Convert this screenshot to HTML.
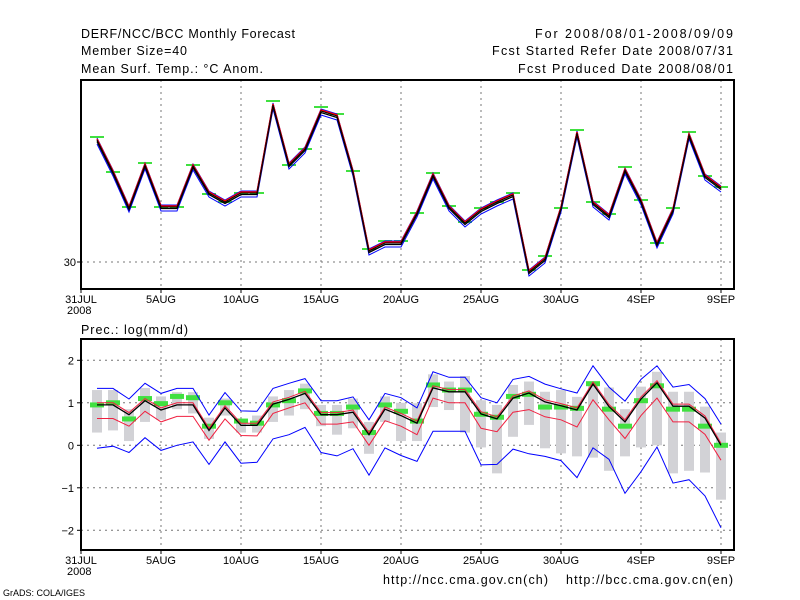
<!DOCTYPE html>
<html><head><meta charset="utf-8"><style>
body{margin:0;background:#fff;}
svg{display:block;font-family:"Liberation Sans",sans-serif;}
</style></head><body>
<svg id="s" width="800" height="600" xmlns="http://www.w3.org/2000/svg">
<rect width="800" height="600" fill="#fff"/>
<g font-size="12.5" fill="#000">
<text x="81" y="38" textLength="214" lengthAdjust="spacing">DERF/NCC/BCC Monthly Forecast</text>
<text x="81" y="55" textLength="106" lengthAdjust="spacing">Member Size=40</text>
<text x="81" y="73" textLength="182" lengthAdjust="spacing">Mean Surf. Temp.: °C Anom.</text>
<text x="535" y="38" textLength="198" lengthAdjust="spacing">For 2008/08/01-2008/09/09</text>
<text x="492" y="55" textLength="241" lengthAdjust="spacing">Fcst Started Refer Date 2008/07/31</text>
<text x="518" y="73" textLength="215" lengthAdjust="spacing">Fcst Produced Date 2008/08/01</text>
<text x="81" y="334" textLength="107" lengthAdjust="spacing">Prec.: log(mm/d)</text>
<text x="383" y="584" textLength="165" lengthAdjust="spacing">http://ncc.cma.gov.cn(ch)</text>
<text x="566" y="584" textLength="167" lengthAdjust="spacing">http://bcc.cma.gov.cn(en)</text>
</g>
<text x="3" y="596" font-size="9">GrADS: COLA/IGES</text>
<g id="g"></g>
</svg>
<script>
var g=document.getElementById('g'),h='';
function X(d){return 81+16*d;}
function pl(pts,c,w){h+='<polyline points="'+pts.join(' ')+'" fill="none" stroke="'+c+'" stroke-width="'+w+'"/>';}
var P=[[80,289],[339,550]];
P.forEach(function(p,i){
 for(var d=5;d<=40;d+=5){h+='<line x1="'+X(d)+'" y1="'+p[0]+'" x2="'+X(d)+'" y2="'+p[1]+'" stroke="#777" stroke-dasharray="2,4"/>';}
 var labs=['31JUL','5AUG','10AUG','15AUG','20AUG','25AUG','30AUG','4SEP','9SEP'];
 labs.forEach(function(l,k){h+='<text x="'+X(k*5)+'" y="'+(p[1]+14)+'" font-size="11" text-anchor="middle">'+l+'</text>';h+='<line x1="'+X(k*5)+'" y1="'+p[1]+'" x2="'+X(k*5)+'" y2="'+(p[1]+4)+'" stroke="#000"/>';});
 h+='<text x="67" y="'+(p[1]+25)+'" font-size="11">2008</text>';
});
h+='<line x1="81" y1="262" x2="734" y2="262" stroke="#777" stroke-dasharray="2,4"/>';
h+='<text x="76" y="266" font-size="11" text-anchor="end">30</text><line x1="77" y1="262" x2="81" y2="262" stroke="#000"/>';
function Yb(v){return 445.3-42.5*v;}
[2,1,0,-1,-2].forEach(function(v){h+='<line x1="81" y1="'+Yb(v)+'" x2="734" y2="'+Yb(v)+'" stroke="#777" stroke-dasharray="2,4"/><text x="74" y="'+(Yb(v)+4)+'" font-size="11" text-anchor="end">'+(v<0?'−'+(-v):v)+'</text><line x1="77" y1="'+Yb(v)+'" x2="81" y2="'+Yb(v)+'" stroke="#000"/>';});
var T=[140,172,208,165,207,207,166,193,202,193,193,105,165,149,111,116,172,251,243,243,213,175,207,223,210,202,195,272,259,208,133,203,216,170,201,244,210,135,176,188];
var ob=[137,172,207,163,207,207,165,194,202,193,193,101,165,149,107,114,171,249,241,241,213,173,206,222,208,202,193,270,256,208,130,202,214,167,200,243,208,132,176,187];
for(var d=1;d<=40;d++){h+='<rect x="'+(X(d)-7)+'" y="'+(ob[d-1]-1)+'" width="14" height="2" fill="#40e040"/>';}
var a=[],b=[],c=[],e=[],f=[];
for(var d=1;d<=40;d++){var x=X(d),y=T[d-1];a.push(x+','+(y-2));b.push(x+','+(y+4));c.push(x+','+y);e.push(x+','+(y-1));f.push(x+','+(y+1.5));}
pl(a,'#00f',1);pl(b,'#00f',1);pl(f,'#000',1.3);pl(e,'#f00',1.5);pl(c,'#000',1);
var bk=[.95,.95,.72,1.05,.83,.95,.95,.35,.88,.47,.47,.97,1.08,1.22,.72,.72,.78,.25,.85,.7,.52,1.35,1.26,1.26,.74,.62,1.11,1.23,1.02,.93,.83,1.44,.91,.55,1.09,1.47,.92,.92,.64,0];
var bu=[1.34,1.34,1.09,1.46,1.22,1.34,1.34,.71,1.24,.81,.8,1.34,1.46,1.57,1.05,1.05,1.14,.6,1.22,1.12,.88,1.73,1.6,1.6,1.12,1.0,1.55,1.62,1.44,1.33,1.23,1.87,1.37,1.04,1.55,1.87,1.37,1.43,1.1,.5];
var bl=[-.07,-.02,-.17,.18,-.12,0,.08,-.45,.08,-.42,-.4,.15,.25,.42,-.17,-.25,-.08,-.7,-.06,-.24,-.38,.33,.33,.33,-.46,-.45,-.09,-.2,-.26,-.36,-.76,-.06,-.33,-1.13,-.62,-.04,-.89,-.81,-1.19,-1.94];
var rl=[.63,.63,.45,.8,.55,.68,.68,.12,.62,.23,.22,.75,.88,1.0,.5,.5,.55,0,.58,.45,.25,1.11,1.0,1.0,.4,.32,.78,.84,.67,.6,.43,1.07,.6,.16,.7,1.11,.55,.55,.26,-.35];
var gt=[1.3,1.3,.85,1.35,1.15,1.25,1.25,.65,1.1,.6,.7,1.15,1.3,1.45,.95,.95,1.1,.55,1.15,1.0,.99,1.67,1.5,1.63,1.06,.95,1.42,1.5,1.26,1.3,1.14,1.5,1.36,.85,1.38,1.73,1.26,1.26,.91,.3];
var gb=[.3,.35,.1,.55,.6,.85,.75,.15,.7,.3,.3,.55,.7,.85,.45,.25,.4,-.2,.55,.1,.1,.9,.83,.3,-.05,-.66,.2,.48,-.07,-.19,-.26,-.29,-.6,-.26,-.05,0,-.66,-.6,-.64,-1.28];
var go=[.95,1.0,.62,1.1,.98,1.15,1.12,.45,1.0,.57,.52,.95,1.05,1.28,.75,.75,.9,.3,.95,.8,.57,1.42,1.3,1.3,.73,.66,1.15,1.2,.9,.9,.87,1.45,.85,.45,1.05,1.4,.85,.85,.45,0];
for(var d=1;d<=40;d++){var x=X(d);h+='<rect x="'+(x-5)+'" y="'+Yb(gt[d-1])+'" width="10" height="'+(42.5*(gt[d-1]-gb[d-1]))+'" fill="#d2d2d6"/>';}
for(var d=1;d<=40;d++){h+='<rect x="'+(X(d)-7)+'" y="'+(Yb(go[d-1])-2.5)+'" width="14" height="5" fill="#40e040"/>';}
function L(arr,dv){var r=[];for(var d=1;d<=40;d++)r.push(X(d)+','+Yb(arr[d-1]+(dv||0)).toFixed(1));return r;}
pl(L(bu),'#00f',1);pl(L(bl),'#00f',1);pl(L(rl),'#f02040',1);pl(L(bk,.05),'#f02040',1);pl(L(bk),'#000',1.3);
P.forEach(function(p){h+='<rect x="81" y="'+p[0]+'" width="653" height="'+(p[1]-p[0])+'" fill="none" stroke="#000" stroke-width="2"/>';});
g.innerHTML=h;
</script>
</body></html>
